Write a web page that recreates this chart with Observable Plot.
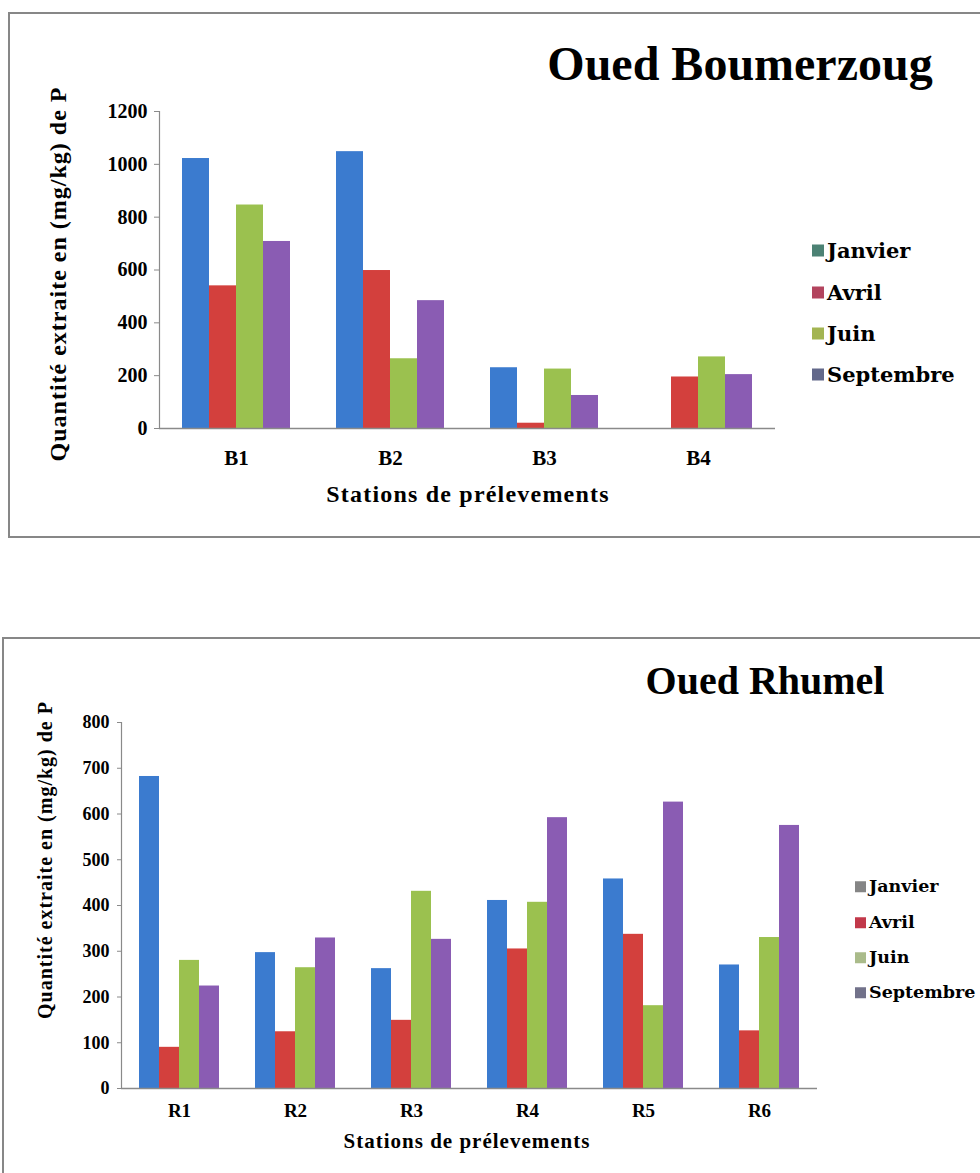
<!DOCTYPE html>
<html>
<head>
<meta charset="utf-8">
<script src="https://cdn.jsdelivr.net/npm/d3@7"></script>
<script src="https://cdn.jsdelivr.net/npm/@observablehq/plot@0.6"></script>
<style>
  body { margin: 0; background: #fff; }
  #page { position: relative; width: 980px; height: 1173px; overflow: hidden; background: #fff; font-family: "Liberation Serif", "Times New Roman", serif; color: #000; }
  .frame { position: absolute; border: 2px solid #878787; box-sizing: border-box; }
  .chart { position: absolute; left: 0; }
  .title { position: absolute; font-family: "Liberation Serif", "Times New Roman", serif; font-weight: bold; white-space: nowrap; transform: translate(-50%, -50%); line-height: 1; }
  .ytitle { position: absolute; font-weight: bold; white-space: nowrap; line-height: 1; transform: translate(-50%, -50%) rotate(-90deg); }
  .xtitle { position: absolute; font-weight: bold; white-space: nowrap; line-height: 1; transform: translate(-50%, -50%); }
  .legend-row { position: absolute; display: flex; align-items: center; white-space: nowrap; transform: translateY(-50%); font-family: "DejaVu Serif", serif; font-weight: bold; line-height: 1; }
  .legend-row .sw { display: inline-block; margin-right: 3px; }
</style>
</head>
<body>
<div id="page"></div>
<script>
// Months of sampling and the bar colours used for them
const months = ["Janvier", "Avril", "Juin", "Septembre"];
const barColors = ["#3b7bcf", "#d3403d", "#9bc14f", "#8a5cb3"];

// Oued Boumerzoug: phosphorus extracted (mg/kg) per station and month
const boumStations = ["B1", "B2", "B3", "B4"];
const boumJanvier = [1022, 1048, 230, null];
const boumAvril = [540, 598, 20, 195];
const boumJuin = [846, 264, 225, 271];
const boumSeptembre = [708, 484, 125, 204];
const boumTicks = [0, 200, 400, 600, 800, 1000, 1200];
const boumSwatches = ["#4c8274", "#b3445e", "#a3b552", "#62688a"];

// Oued Rhumel: phosphorus extracted (mg/kg) per station and month
const rhumStations = ["R1", "R2", "R3", "R4", "R5", "R6"];
const rhumJanvier = [682, 297, 262, 411, 458, 270];
const rhumAvril = [90, 124, 149, 305, 337, 126];
const rhumJuin = [280, 264, 431, 407, 181, 330];
const rhumSeptembre = [224, 329, 326, 592, 626, 575];
const rhumTicks = [0, 100, 200, 300, 400, 500, 600, 700, 800];
const rhumSwatches = ["#858585", "#c2384a", "#aabb8a", "#72728a"];

const yLabel = "Quantité extraite en (mg/kg) de P";
const xLabel = "Stations de prélevements";

function toRows(stations, series) {
  const rows = [];
  stations.forEach((s, i) => {
    months.forEach((m, j) => {
      const v = series[j][i];
      if (v != null) rows.push({station: s, month: m, value: v});
    });
  });
  return rows;
}

const page = document.getElementById("page");

function addEl(cls, text, css) {
  const el = document.createElement("div");
  el.className = cls;
  if (text != null) el.textContent = text;
  Object.assign(el.style, css);
  page.appendChild(el);
  return el;
}

function drawChart(cfg) {
  addEl("frame", null, cfg.frame);

  const svg = Plot.plot({
    width: 980,
    height: cfg.height,
    marginLeft: cfg.margin[3],
    marginRight: cfg.margin[1],
    marginTop: cfg.margin[0],
    marginBottom: cfg.margin[2],
    style: {fontFamily: "'Liberation Serif', 'Times New Roman', serif", fontWeight: "bold", color: "#000", background: "transparent", overflow: "visible"},
    fx: {domain: cfg.stations, padding: 0, label: null},
    x: {domain: months, paddingInner: 0, paddingOuter: cfg.groupPad, axis: null},
    y: {domain: [0, cfg.ticks[cfg.ticks.length - 1]], label: null},
    color: {domain: months, range: barColors},
    marks: [
      Plot.barY(cfg.rows, {fx: "station", x: "month", y: "value", fill: "month"}),
      Plot.ruleY([0], {stroke: "#8a8a8a", strokeWidth: 1.5}),
      Plot.frame({anchor: "left", facetAnchor: "left", stroke: "#8a8a8a", strokeWidth: 1.2}),
      Plot.axisY(cfg.ticks, {tickSize: cfg.tickSize, tickPadding: cfg.tickPadding, fontSize: cfg.tickFont, tickFormat: (d) => String(d), stroke: "#8a8a8a", fill: "#000", label: null}),
      Plot.axisFx({anchor: "bottom", tickSize: 0, tickPadding: cfg.fxPadding, fontSize: cfg.fxFont, fill: "#000", label: null})
    ]
  });
  svg.classList.add("chart");
  svg.style.top = cfg.top + "px";
  page.appendChild(svg);

  addEl("title", cfg.title, {left: cfg.titlePos[0] + "px", top: cfg.titlePos[1] + "px", fontSize: cfg.titleFont + "px"});
  addEl("ytitle", yLabel, {left: cfg.yTitlePos[0] + "px", top: cfg.yTitlePos[1] + "px", fontSize: cfg.yTitleFont + "px", letterSpacing: cfg.yTitleSpacing + "px"});
  addEl("xtitle", xLabel, {left: cfg.xTitlePos[0] + "px", top: cfg.xTitlePos[1] + "px", fontSize: cfg.xTitleFont + "px", letterSpacing: cfg.xTitleSpacing + "px"});

  months.forEach((m, i) => {
    const row = addEl("legend-row", null, {left: cfg.legendX + "px", top: cfg.legendY[i] + "px", fontSize: cfg.legendFont + "px"});
    const sw = document.createElement("span");
    sw.className = "sw";
    Object.assign(sw.style, {width: cfg.swatch + "px", height: cfg.swatch + "px", background: cfg.swatches[i]});
    row.appendChild(sw);
    const t = document.createElement("span");
    t.textContent = m;
    row.appendChild(t);
  });
}

drawChart({
  frame: {left: "8px", top: "12px", width: "985px", height: "526px"},
  top: 0,
  height: 540,
  margin: [111, 204, 112, 158],
  stations: boumStations,
  rows: toRows(boumStations, [boumJanvier, boumAvril, boumJuin, boumSeptembre]),
  groupPad: 0.8,
  ticks: boumTicks,
  tickSize: 5, tickPadding: 7, tickFont: 20,
  fxPadding: 22, fxFont: 21,
  title: "Oued Boumerzoug", titlePos: [740, 64], titleFont: 48,
  yTitlePos: [58, 274], yTitleFont: 24, yTitleSpacing: 1,
  xTitlePos: [468, 494], xTitleFont: 24, xTitleSpacing: 1.2,
  legendX: 812, legendY: [250, 292, 333, 374], legendFont: 21, swatch: 12,
  swatches: boumSwatches
});

drawChart({
  frame: {left: "2px", top: "637px", width: "995px", height: "600px"},
  top: 630,
  height: 543,
  margin: [92, 162, 85, 119],
  stations: rhumStations,
  rows: toRows(rhumStations, [rhumJanvier, rhumAvril, rhumJuin, rhumSeptembre]),
  groupPad: 0.78,
  ticks: rhumTicks,
  tickSize: 4, tickPadding: 8, tickFont: 18,
  fxPadding: 15, fxFont: 19,
  title: "Oued Rhumel", titlePos: [765, 681], titleFont: 40,
  yTitlePos: [45, 860], yTitleFont: 20, yTitleSpacing: 1,
  xTitlePos: [467, 1141], xTitleFont: 21, xTitleSpacing: 1,
  legendX: 855, legendY: [887, 923, 958, 993], legendFont: 17.5, swatch: 11,
  swatches: rhumSwatches
});
</script>
</body>
</html>
